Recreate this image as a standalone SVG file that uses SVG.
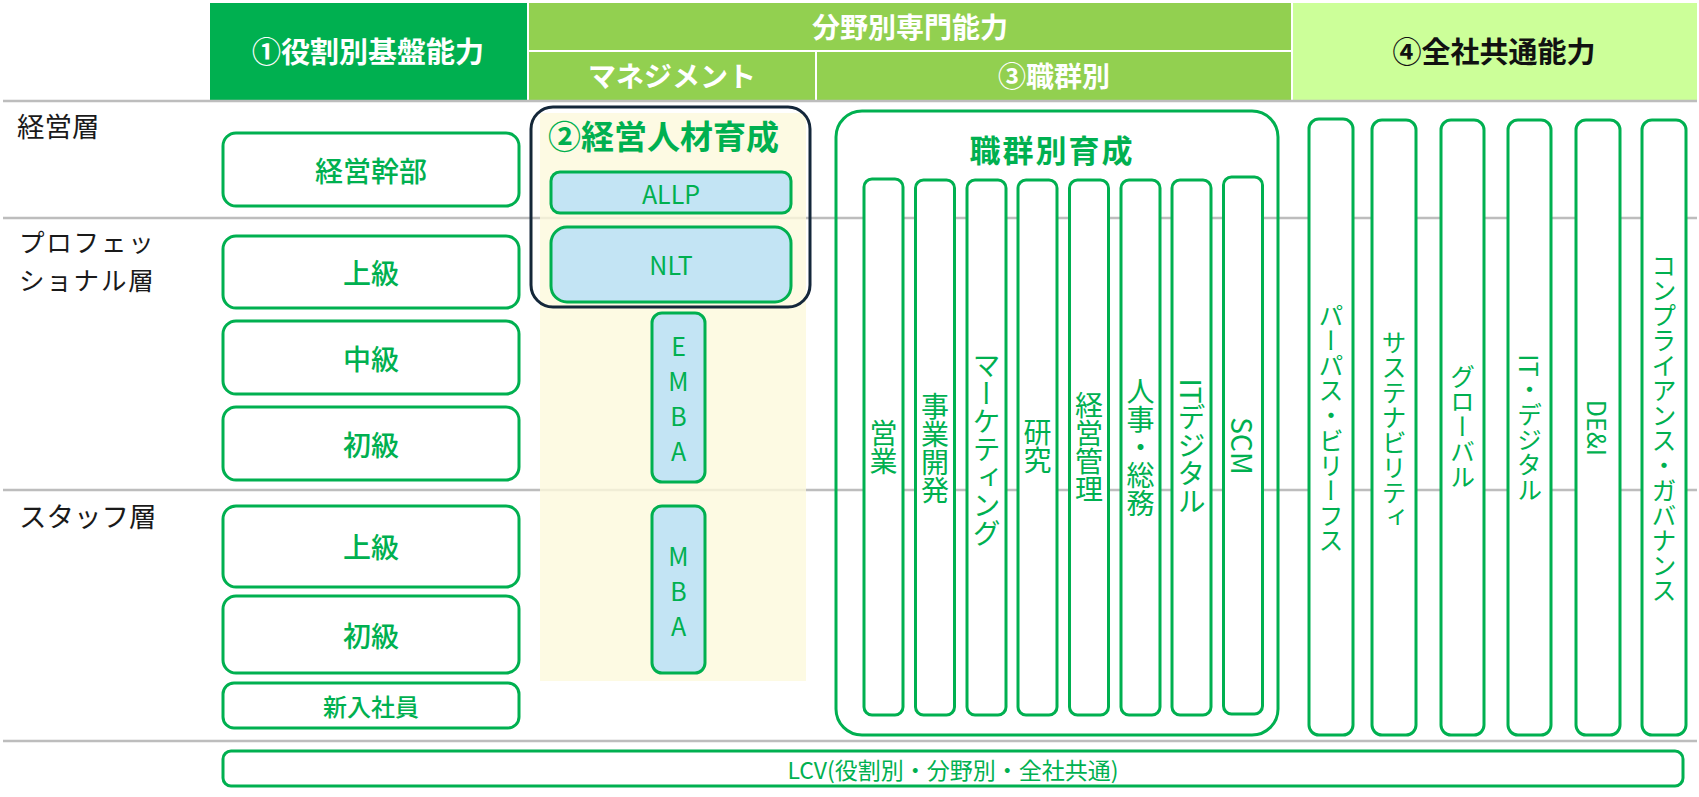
<svg xmlns="http://www.w3.org/2000/svg" width="1699" height="797" viewBox="0 0 1699 797">
<style>
text{font-family:"Noto Sans CJK JP","Noto Sans CJK SC","Noto Sans",sans-serif;dominant-baseline:central;text-anchor:middle}
.hw{fill:#fff;font-weight:bold;font-size:28px}
.hk{fill:#111;font-weight:bold;font-size:29px}
.lab{fill:#1a1a1a;font-size:27.5px;text-anchor:start}
.lab2{fill:#1a1a1a;font-size:25.5px;letter-spacing:1.8px;text-anchor:start}
.g{fill:#00b050}
.bt{fill:#00b050;font-size:28px;font-weight:500}
.box{fill:#fff;stroke:#00b050;stroke-width:3}
.blue{fill:#c3e4f4;stroke:#00b050;stroke-width:3}
.grid{stroke:#bdbdbd;stroke-width:2.5}
.v{writing-mode:vertical-rl;font-size:28px;fill:#00b050}
.v2{writing-mode:vertical-rl;font-size:25px;fill:#00b050}
.lt{fill:#00b050;font-size:25px}
</style>
<rect width="1699" height="797" fill="#fff"/>

<g id="header">
  <g id="h-role"><rect x="210" y="3" width="317" height="97" fill="#00b050"/><text class="hw" x="368" y="50" style="font-size:29px">①役割別基盤能力</text></g>
  <g id="h-field"><rect x="529" y="3" width="762" height="47" fill="#92d050"/><text class="hw" x="910" y="26">分野別専門能力</text></g>
  <g id="h-mgmt"><rect x="529" y="52" width="286" height="48" fill="#92d050"/><text class="hw" x="672" y="75">マネジメント</text></g>
  <g id="h-job"><rect x="817" y="52" width="474" height="48" fill="#92d050"/><text class="hw" x="1054" y="75">③職群別</text></g>
  <g id="h-common"><rect x="1293" y="3" width="404" height="97" fill="#ccff99"/><text class="hk" x="1494" y="50">④全社共通能力</text></g>
</g>

<g id="grid">
  <line class="grid" x1="3" y1="101" x2="1697" y2="101"/>
  <line class="grid" x1="3" y1="218" x2="1697" y2="218"/>
  <line class="grid" x1="3" y1="490" x2="1697" y2="490"/>
  <line class="grid" x1="3" y1="741" x2="1697" y2="741"/>
</g>

<g id="row-labels">
  <text class="lab" x="17" y="125">経営層</text>
  <text class="lab2" x="19" y="240">プロフェッ</text>
  <text class="lab2" x="19" y="278">ショナル層</text>
  <text class="lab" x="19" y="515">スタッフ層</text>
</g>

<g id="role-boxes">
  <g id="exec"><rect class="box" x="223" y="133" width="296" height="73" rx="13"/><text class="bt" x="371" y="170">経営幹部</text></g>
  <g id="pro-senior"><rect class="box" x="223" y="236" width="296" height="72" rx="13"/><text class="bt" x="371" y="272">上級</text></g>
  <g id="pro-mid"><rect class="box" x="223" y="321" width="296" height="73" rx="13"/><text class="bt" x="371" y="357.5">中級</text></g>
  <g id="pro-junior"><rect class="box" x="223" y="407" width="296" height="73" rx="13"/><text class="bt" x="371" y="443.5">初級</text></g>
  <g id="staff-senior"><rect class="box" x="223" y="506" width="296" height="81" rx="13"/><text class="bt" x="371" y="546">上級</text></g>
  <g id="staff-junior"><rect class="box" x="223" y="596" width="296" height="77" rx="13"/><text class="bt" x="371" y="634.5">初級</text></g>
  <g id="newhire"><rect class="box" x="223" y="683" width="296" height="45" rx="11"/><text class="bt" x="371" y="705.5" style="font-size:24px">新入社員</text></g>
</g>

<g id="mgmt">
  <rect x="540" y="113" width="266" height="568" fill="#fcf9dc" fill-opacity="0.8"/>
  <g id="leader-dev">
    <rect x="531" y="107" width="279" height="200" rx="22" fill="none" stroke="#14273a" stroke-width="3"/>
    <text x="663.5" y="134.5" class="g" style="font-size:33px;font-weight:bold">②経営人材育成</text>
  </g>
  <g id="allp"><rect class="blue" x="551" y="172" width="240" height="41" rx="9"/><text class="lt" x="671" y="192.5">ALLP</text></g>
  <g id="nlt"><rect class="blue" x="551" y="227" width="240" height="75" rx="16"/><text class="lt" x="671" y="264">NLT</text></g>
  <g id="emba"><rect class="blue" x="652" y="313" width="53" height="169" rx="10"/>
    <text class="lt" x="678.5" y="345">E</text><text class="lt" x="678.5" y="380">M</text><text class="lt" x="678.5" y="415">B</text><text class="lt" x="678.5" y="450">A</text></g>
  <g id="mba"><rect class="blue" x="652" y="506" width="53" height="167" rx="10"/>
    <text class="lt" x="678.5" y="555">M</text><text class="lt" x="678.5" y="590">B</text><text class="lt" x="678.5" y="625">A</text></g>
</g>

<g id="job">
  <rect x="836" y="111" width="442" height="624" rx="26" fill="none" stroke="#00b050" stroke-width="3"/>
  <text x="1052" y="148" class="g" style="font-size:31px;font-weight:bold;letter-spacing:2px">職群別育成</text>
  <g id="j1"><rect class="box" x="864" y="179" width="39" height="536" rx="8"/><text class="v" x="883.5" y="447">営業</text></g>
  <g id="j2"><rect class="box" x="915.5" y="180" width="39" height="535" rx="8"/><text class="v" x="935" y="448">事業開発</text></g>
  <g id="j3"><rect class="box" x="967" y="180" width="39" height="535" rx="8"/><text class="v" x="986.5" y="449">マーケティング</text></g>
  <g id="j4"><rect class="box" x="1018" y="180" width="39" height="535" rx="8"/><text class="v" x="1037.5" y="446">研究</text></g>
  <g id="j5"><rect class="box" x="1069.5" y="180" width="39" height="535" rx="8"/><text class="v" x="1089" y="447">経営管理</text></g>
  <g id="j6"><rect class="box" x="1121" y="180" width="39" height="535" rx="8"/><text class="v" x="1140.5" y="447">人事・総務</text></g>
  <g id="j7"><rect class="box" x="1172" y="180" width="39" height="535" rx="8"/><text class="v" x="1191.5" y="447">ITデジタル</text></g>
  <g id="j8"><rect class="box" x="1223.5" y="177" width="39" height="537" rx="8"/><text class="v" x="1243" y="446">SCM</text></g>
</g>

<g id="common">
  <g id="c1"><rect class="box" x="1309" y="119" width="44" height="616" rx="10"/><text class="v2" x="1331" y="428">パーパス・ビリーフス</text></g>
  <g id="c2"><rect class="box" x="1372" y="120" width="44" height="615" rx="10"/><text class="v2" x="1394" y="430">サステナビリティ</text></g>
  <g id="c3"><rect class="box" x="1441" y="120" width="43" height="615" rx="10"/><text class="v2" x="1462.5" y="426">グローバル</text></g>
  <g id="c4"><rect class="box" x="1508" y="120" width="43" height="615" rx="10"/><text class="v2" x="1529.5" y="428">IT・デジタル</text></g>
  <g id="c5"><rect class="box" x="1576" y="120" width="44" height="615" rx="10"/><text class="v2" x="1598" y="428">DE&amp;I</text></g>
  <g id="c6"><rect class="box" x="1642" y="120" width="44" height="615" rx="10"/><text class="v2" x="1664" y="428">コンプライアンス・ガバナンス</text></g>
</g>

<g id="lcv"><rect class="box" x="223" y="751" width="1460" height="35" rx="8"/><text x="953" y="769" class="g" style="font-size:23px">LCV(役割別・分野別・全社共通)</text></g>
</svg>
